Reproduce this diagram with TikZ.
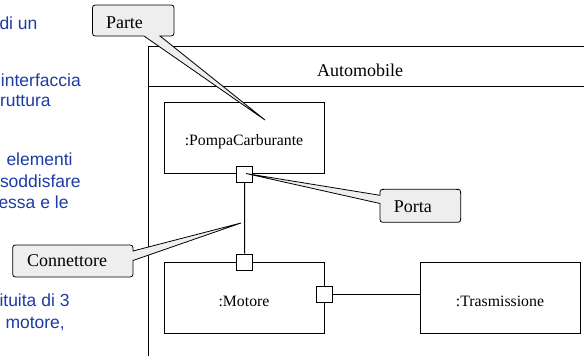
\documentclass[tikz,border=0pt]{standalone}
\usepackage{fontspec}
\setmainfont{Liberation Serif}
\newfontfamily\slidefont{Liberation Sans}
\definecolor{slideblue}{RGB}{28,60,165}
\definecolor{calloutgray}{RGB}{238,238,238}
\begin{document}
\begin{tikzpicture}[x=1pt,y=-1pt,line width=1pt,
  part/.style={draw,fill=white,minimum width=160pt,minimum height=71.5pt,
    inner sep=0pt,text height=16pt,text depth=0pt,
    font=\fontsize{15.8}{18}\selectfont},
  port/.style={draw,fill=white,minimum size=16pt,inner sep=0pt},
  wire/.style={draw,line width=1pt},
  callout/.style={draw,fill=calloutgray,line width=0.8pt,line join=miter},
  callouttext/.style={anchor=base west,inner sep=0pt,
    font=\fontsize{18}{20}\selectfont},
  slidetext/.style={anchor=base west,inner sep=0pt,text=slideblue,
    font=\slidefont\fontsize{17.5}{20}\selectfont}]
\useasboundingbox (0,0) rectangle (584,356);

% text of the slide, running under the left edge
\node[slidetext] (s1) at (-1,30)     {di un};
\node[slidetext] (s2) at (0.5,86.7)  {interfaccia};
\node[slidetext] (s3) at (-0.5,106.7){ruttura};
\node[slidetext] (s4) at (6,165)     {elementi};
\node[slidetext] (s5) at (-0.5,187.7){soddisfare};
\node[slidetext] (s6) at (-2,208.3)  {essa e le};
\node[slidetext] (s7) at (-1,306.7)  {ituita di 3};
\node[slidetext] (s8) at (5,328.3)   {motore,};

% composite structure frame
\draw (584,46) -- (148,46) -- (148,357);
\draw (148,86) -- (584,86);
\node[anchor=base,inner sep=0pt,font=\fontsize{18}{20}\selectfont]
  (autolabel) at (360,76.7) {Automobile};

% parts
\node[part] (pompa)  at (244,137.75) {:PompaCarburante};
\node[part] (motore) at (244,298)    {:Motore};
\node[part] (trasm)  at (500,298)    {:Trasmissione};

% ports
\node[port] (pp) at (244.7,174) {};
\node[port] (mp) at (244.5,262) {};
\node[port] (mr) at (324.5,294) {};

% connectors
\draw[wire] (pp.south) -- (mp.north);
\draw[wire] (mr.east) -- (mr -| trasm.west);

% callout tips
\coordinate (partetip) at (265,120);
\coordinate (portatip) at (246,173.5);
\coordinate (conntip)  at (241,223);

% callout: Parte
\draw[callout] (144,36) -- (98.5,36) .. controls (92.5,36) .. (92.5,30)
  -- (92.5,11) .. controls (92.5,5) .. (98.5,5) -- (168,5)
  .. controls (174,5) .. (174,11) -- (174,30) .. controls (174,36) .. (168,36)
  -- (160,36) -- (partetip) -- cycle;
\node[callouttext] (partelabel) at (105.5,28.3) {Parte};

% callout: Porta
\draw[callout] (380,203.5) -- (380,216.3) .. controls (380,222.3) .. (386,222.3)
  -- (454.7,222.3) .. controls (460.7,222.3) .. (460.7,216.3)
  -- (460.7,195.3) .. controls (460.7,189.3) .. (454.7,189.3)
  -- (386,189.3) .. controls (380,189.3) .. (380,195.3)
  -- (portatip) -- cycle;
\node[callouttext] (portalabel) at (393.3,212.7) {Porta};

% callout: Connettore
\draw[callout] (133,251) -- (conntip) -- (133,260.5) -- (133,271)
  .. controls (133,277) .. (127,277) -- (18.7,277)
  .. controls (12.7,277) .. (12.7,271) -- (12.7,251)
  .. controls (12.7,245) .. (18.7,245) -- (127,245)
  .. controls (133,245) .. (133,251) -- cycle;
\node[callouttext] (connlabel) at (26.7,266) {Connettore};
\end{tikzpicture}
\end{document}
